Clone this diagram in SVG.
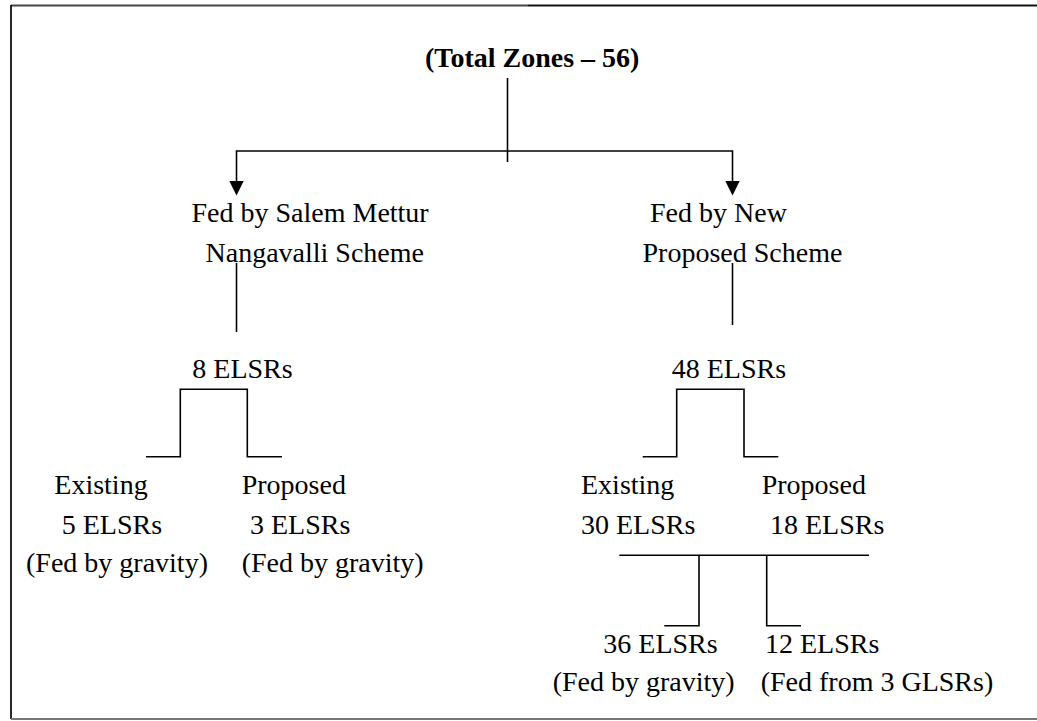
<svg xmlns="http://www.w3.org/2000/svg" width="1037" height="721" viewBox="0 0 1037 721">
<style>
text{font-family:"Liberation Serif","Times New Roman",serif;font-size:28px;fill:#000}
.t{font-weight:bold}
.ln{stroke:#000;stroke-width:1.6;fill:none}
</style>
<rect width="1037" height="721" fill="#fff"/>
<g id="frame">
<line x1="11" y1="5.5" x2="528" y2="5.5" stroke="#444" stroke-width="1.8"/>
<line x1="528" y1="5.5" x2="1037" y2="5.5" stroke="#111" stroke-width="1.8"/>
<line x1="11" y1="5" x2="11" y2="719" stroke="#111" stroke-width="1.8"/>
<line x1="11" y1="719" x2="1037" y2="719" stroke="#777" stroke-width="1.8"/>
</g>
<g id="connectors">
<line class="ln" x1="507.5" y1="78" x2="507.5" y2="162"/>
<polyline class="ln" points="236.5,181 236.5,151 732.5,151 732.5,181"/>
<path d="M229.3,181 L243.7,181 L236.5,195.5 Z" fill="#000"/>
<path d="M725.3,181 L739.7,181 L732.5,195.5 Z" fill="#000"/>
<line class="ln" x1="236.5" y1="263" x2="236.5" y2="332"/>
<line class="ln" x1="732.5" y1="263" x2="732.5" y2="325"/>
<polyline class="ln" points="146,456.7 180.3,456.7 180.3,389.3 247.3,389.3 247.3,456.7 282,456.7"/>
<polyline class="ln" points="642.7,456.7 676.7,456.7 676.7,389.3 744,389.3 744,456.7 778.3,456.7"/>
<line class="ln" x1="619.3" y1="555.3" x2="869" y2="555.3"/>
<polyline class="ln" points="699,555.3 699,625.7 664.3,625.7"/>
<polyline class="ln" points="766.7,555.3 766.7,625.7 801,625.7"/>
</g>
<g id="n-total"><text class="t" x="425" y="67">(Total Zones – 56)</text></g>
<g id="n-salem">
<text x="191.5" y="222">Fed by Salem Mettur</text>
<text x="205.5" y="262">Nangavalli Scheme</text>
</g>
<g id="n-new">
<text x="650" y="222">Fed by New</text>
<text x="642.5" y="262">Proposed Scheme</text>
</g>
<g id="n-8"><text x="192.3" y="378">8 ELSRs</text></g>
<g id="n-48"><text x="671.7" y="378">48 ELSRs</text></g>
<g id="n-ex5">
<text x="54.3" y="494">Existing</text>
<text x="61.7" y="534">5 ELSRs</text>
<text x="26" y="572">(Fed by gravity)</text>
</g>
<g id="n-pr3">
<text x="241.7" y="494">Proposed</text>
<text x="250" y="534">3 ELSRs</text>
<text x="241.7" y="572">(Fed by gravity)</text>
</g>
<g id="n-ex30">
<text x="581" y="494">Existing</text>
<text x="581" y="534">30 ELSRs</text>
</g>
<g id="n-pr18">
<text x="761.7" y="494">Proposed</text>
<text x="770" y="534">18 ELSRs</text>
</g>
<g id="n-36">
<text x="603.3" y="653">36 ELSRs</text>
<text x="552.7" y="691">(Fed by gravity)</text>
</g>
<g id="n-12">
<text x="765" y="653">12 ELSRs</text>
<text x="760.7" y="691">(Fed from 3 GLSRs)</text>
</g>
</svg>
